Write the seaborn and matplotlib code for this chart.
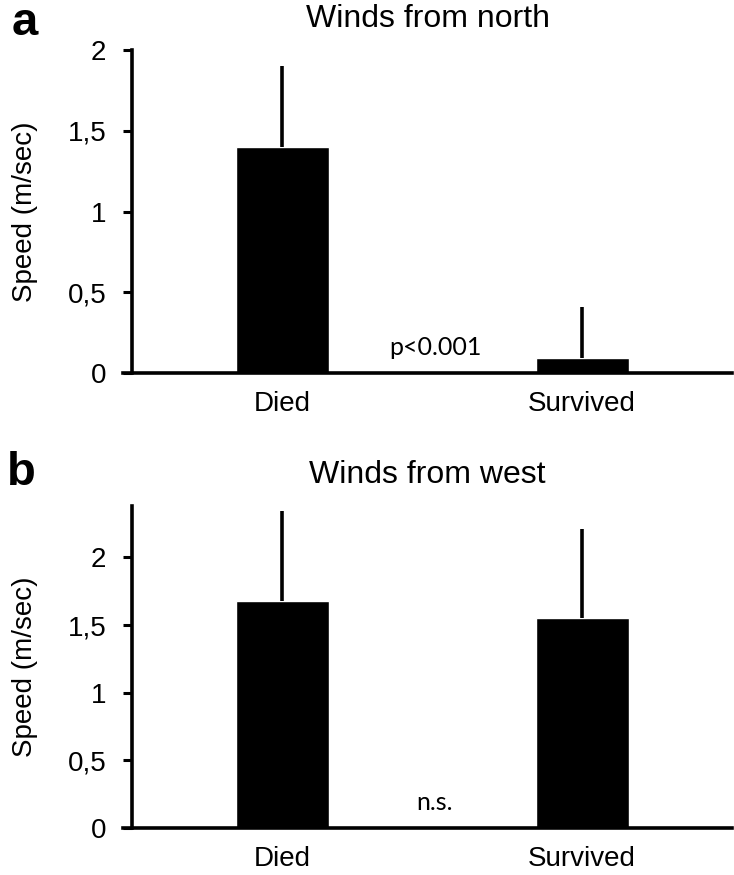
import matplotlib
matplotlib.use("Agg")
import matplotlib.pyplot as plt
import seaborn as sns
import pandas as pd
import numpy as np

groups = ["Died", "Survived"]
north_mean = [1.40, 0.09]
north_upper = [1.90, 0.41]
west_mean = [1.68, 1.555]
west_upper = [2.34, 2.21]
yticks = [0, 0.5, 1, 1.5, 2]
tick_labels = ["0", "0,5", "1", "1,5", "2"]

sns.set_theme(style="white")
plt.rcParams['font.family'] = ['Liberation Sans', 'DejaVu Sans']
plt.rcParams['text.color'] = 'black'
plt.rcParams['axes.labelcolor'] = 'black'

W, H = 734, 875
fig = plt.figure(figsize=(W / 100, H / 100), dpi=100)

def axes_rect(left_px, top_px, right_px, bottom_px):
    return [left_px / W, 1 - bottom_px / H, (right_px - left_px) / W, (bottom_px - top_px) / H]

ax_a = fig.add_axes(axes_rect(123, 50, 732, 373))
ax_b = fig.add_axes(axes_rect(123, 506, 732, 828))

def panel(ax, means, upper, ymax, title, note, note_y):
    df = pd.DataFrame({"group": groups, "speed": means})
    sns.barplot(data=df, x="group", y="speed", color="black", width=0.31,
                saturation=1, ax=ax, errorbar=None)
    up = np.array(upper) - np.array(means)
    ax.errorbar(range(len(groups)), means, yerr=[np.zeros(len(up)), up],
                fmt="none", ecolor="black", elinewidth=2.6, capsize=0)
    ax.set_xlim(-0.53, 1.5)
    ax.set_ylim(0, ymax)
    ax.spines['left'].set_position(('data', -0.5))
    for s in ['top', 'right']:
        ax.spines[s].set_visible(False)
    for s in ['left', 'bottom']:
        ax.spines[s].set_linewidth(2.6)
        ax.spines[s].set_color('black')
    ax.set_yticks(yticks)
    ax.set_yticklabels(tick_labels, fontsize=20)
    ax.tick_params(axis='y', length=6.5, width=2.2, direction='out', pad=12,
                   colors='black', left=True)
    ax.tick_params(axis='x', length=0, pad=13, labelsize=20, colors='black')
    ax.set_xlabel("")
    ax.set_ylabel("Speed (m/sec)", fontsize=20)
    ax.yaxis.set_label_coords(-0.14, 0.5)
    ax.set_title(title, fontsize=23, pad=16.5, color='black')
    ax.text(0.51, note_y, note, fontsize=18, ha='center', va='baseline',
            family=['Lato', 'DejaVu Sans'], color='black')

panel(ax_a, north_mean, north_upper, 2.0, "Winds from north", "p<0.001", 0.11)
panel(ax_b, west_mean, west_upper, 2.38, "Winds from west", "n.s.", 0.13)

fig.text(12 / W, 1 - 35 / H, "a", fontsize=34, fontweight='bold', va='baseline', ha='left')
fig.text(7 / W, 1 - 485 / H, "b", fontsize=34, fontweight='bold', va='baseline', ha='left')

fig.savefig("out.png", dpi=100)
